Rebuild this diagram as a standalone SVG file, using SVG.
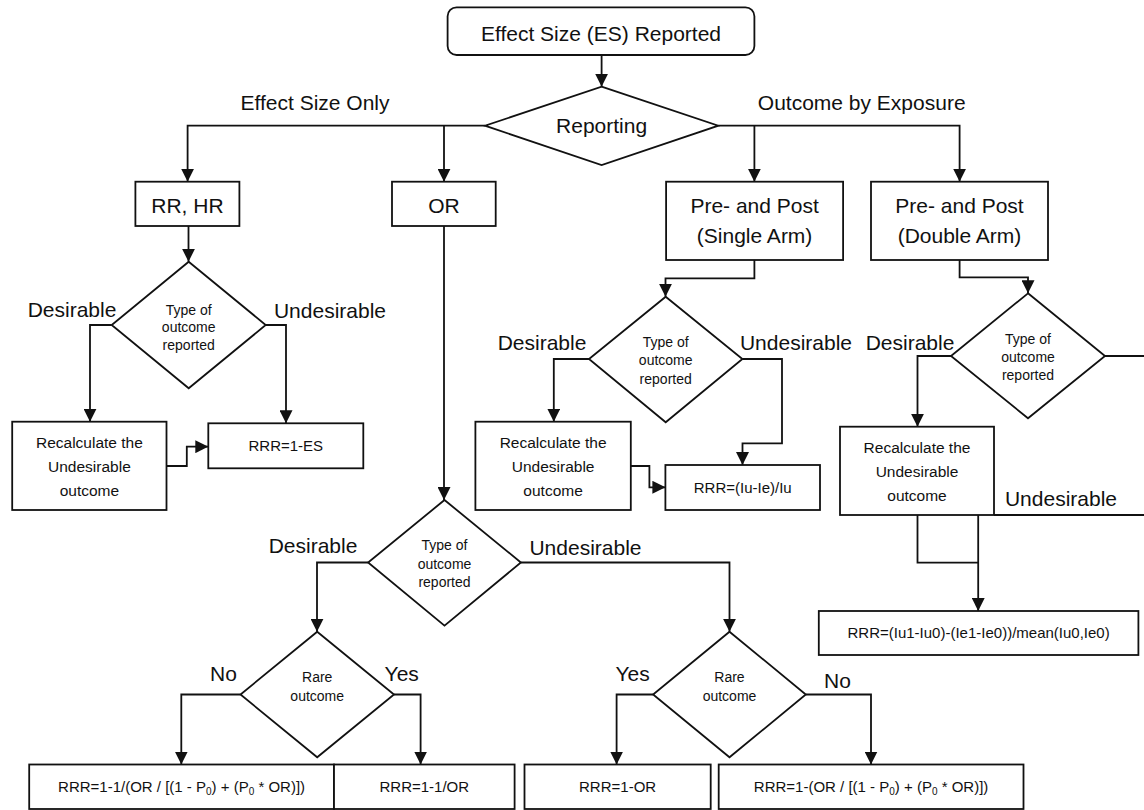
<svg xmlns="http://www.w3.org/2000/svg" width="1144" height="810" viewBox="0 0 1144 810">
<defs>
<marker id="ah" markerWidth="13" markerHeight="13" refX="13" refY="6.5" orient="auto" markerUnits="userSpaceOnUse">
<path d="M0,0 L13,6.5 L0,13 Z" fill="#111"/>
</marker>
<style>
.n{fill:#fff;stroke:#111;stroke-width:1.8}
.c{fill:none;stroke:#111;stroke-width:1.8}
.a{marker-end:url(#ah)}
text{font-family:"Liberation Sans",Arial,sans-serif;fill:#111;text-anchor:middle}
.L{font-size:21px}
.s{font-size:14px}
.m{font-size:15.5px}
.f{font-size:15px}
</style>
</defs>
<rect width="1144" height="810" fill="#fff"/>

<g id="connectors">
<path class="c a" d="M601.6,55 V86.7"/>
<path class="c a" d="M485,125.7 H187.6 V181.7"/>
<path class="c a" d="M444,125.7 V181.7"/>
<path class="c a" d="M718.3,125.7 H959.6 V181.7"/>
<path class="c a" d="M754.4,125.7 V181.7"/>
<path class="c a" d="M188.5,226 V261.7"/>
<path class="c a" d="M111.7,325 H90 V421.7"/>
<path class="c a" d="M265.7,325 H286 V423.3"/>
<path class="c a" d="M166.5,466 H186.8 V446.7 H208.3"/>
<path class="c a" d="M444,226 V500"/>
<path class="c a" d="M754.4,260 V278.3 H665.5 V296.7"/>
<path class="c a" d="M589,359 H553.8 V421.7"/>
<path class="c a" d="M742.4,359 H782 V443.3 H742.5 V465"/>
<path class="c a" d="M630.8,466 H649.4 V487.3 H665.4"/>
<path class="c a" d="M959.6,260 V277.3 H1028 V293.3"/>
<path class="c a" d="M951,356 H917.5 V426.7"/>
<path class="c" d="M1105,356 H1150"/>
<path class="c" d="M1150,515 H994"/>
<path class="c a" d="M978.2,515 V611"/>
<path class="c" d="M917.5,515 V562.7 H978.2"/>
<path class="c a" d="M368.1,562.5 H317 V631.7"/>
<path class="c a" d="M520.9,562.5 H729.5 V631.7"/>
<path class="c a" d="M240.5,694.5 H181.3 V764.5"/>
<path class="c a" d="M394,694.5 H420.6 V764.5"/>
<path class="c a" d="M653.1,694.5 H616.6 V764.5"/>
<path class="c a" d="M805.8,694.5 H871 V764.5"/>
</g>

<g id="labels">
<text class="L" x="315" y="110">Effect Size Only</text>
<text class="L" x="861.7" y="110">Outcome by Exposure</text>
<text class="L" x="72" y="316.5">Desirable</text>
<text class="L" x="330" y="318">Undesirable</text>
<text class="L" x="542" y="350">Desirable</text>
<text class="L" x="796" y="350">Undesirable</text>
<text class="L" x="910" y="350">Desirable</text>
<text class="L" x="1061" y="505.5">Undesirable</text>
<text class="L" x="313" y="552.5">Desirable</text>
<text class="L" x="585.5" y="555">Undesirable</text>
<text class="L" x="223.4" y="681">No</text>
<text class="L" x="401.7" y="681">Yes</text>
<text class="L" x="632.6" y="681">Yes</text>
<text class="L" x="837.5" y="688">No</text>
</g>

<g id="start">
<rect class="n" x="447.6" y="7.3" width="306.8" height="47.7" rx="9"/>
<text class="L" x="601" y="41">Effect Size (ES) Reported</text>
</g>
<g id="reporting">
<polygon class="n" points="601.6,86.7 718.3,125.7 601.6,165 485,125.7"/>
<text class="L" x="601.6" y="133.3">Reporting</text>
</g>
<g id="rrhr">
<rect class="n" x="135.4" y="181.7" width="104" height="44.3"/>
<text class="L" x="187.4" y="213.3">RR, HR</text>
</g>
<g id="or">
<rect class="n" x="392" y="181.7" width="103.7" height="44.3"/>
<text class="L" x="443.9" y="213.3">OR</text>
</g>
<g id="single">
<rect class="n" x="666.1" y="181.7" width="177" height="78.3"/>
<text class="L" x="754.6" y="213.3">Pre- and Post</text>
<text class="L" x="754.6" y="242.5">(Single Arm)</text>
</g>
<g id="double">
<rect class="n" x="871" y="181.7" width="177" height="78.3"/>
<text class="L" x="959.5" y="213.3">Pre- and Post</text>
<text class="L" x="959.5" y="242.5">(Double Arm)</text>
</g>

<g id="type-rr">
<polygon class="n" points="188.7,261.7 265.7,325 188.7,388.3 111.7,325"/>
<text class="s" x="188.7" y="315">Type of</text>
<text class="s" x="188.7" y="332">outcome</text>
<text class="s" x="188.7" y="350">reported</text>
</g>
<g id="type-single">
<polygon class="n" points="665.7,296.7 742.4,359 665.7,422.3 589,359"/>
<text class="s" x="665.7" y="347">Type of</text>
<text class="s" x="665.7" y="365">outcome</text>
<text class="s" x="665.7" y="383.5">reported</text>
</g>
<g id="type-double">
<polygon class="n" points="1028,293.3 1105,356 1028,418.3 951,356"/>
<text class="s" x="1028" y="343.5">Type of</text>
<text class="s" x="1028" y="361.5">outcome</text>
<text class="s" x="1028" y="380">reported</text>
</g>

<g id="recalc-rr">
<rect class="n" x="12.2" y="421.7" width="154.3" height="88.3"/>
<text class="m" x="89.4" y="448">Recalculate the</text>
<text class="m" x="89.4" y="472">Undesirable</text>
<text class="m" x="89.4" y="496">outcome</text>
</g>
<g id="rrr-1-es">
<rect class="n" x="208.3" y="423.3" width="155" height="45"/>
<text class="f" x="285.8" y="451">RRR=1-ES</text>
</g>
<g id="recalc-single">
<rect class="n" x="475.4" y="421.7" width="155.4" height="88.3"/>
<text class="m" x="553.1" y="448">Recalculate the</text>
<text class="m" x="553.1" y="472">Undesirable</text>
<text class="m" x="553.1" y="496">outcome</text>
</g>
<g id="rrr-iu-ie">
<rect class="n" x="665.4" y="465" width="154.6" height="45"/>
<text class="f" x="742.7" y="492.5">RRR=(Iu-Ie)/Iu</text>
</g>
<g id="recalc-double">
<rect class="n" x="840" y="426.7" width="154" height="88.3"/>
<text class="m" x="917" y="453">Recalculate the</text>
<text class="m" x="917" y="477">Undesirable</text>
<text class="m" x="917" y="501">outcome</text>
</g>
<g id="rrr-double">
<rect class="n" x="818.8" y="611" width="319.6" height="44"/>
<text class="f" x="978.6" y="638">RRR=(Iu1-Iu0)-(Ie1-Ie0))/mean(Iu0,Ie0)</text>
</g>

<g id="type-or">
<polygon class="n" points="444.5,500 520.9,562.5 444.5,625.7 368.1,562.5"/>
<text class="s" x="444.5" y="550">Type of</text>
<text class="s" x="444.5" y="568.5">outcome</text>
<text class="s" x="444.5" y="587">reported</text>
</g>
<g id="rare-desirable">
<polygon class="n" points="317.2,631.7 394,694.5 317.2,757.3 240.5,694.5"/>
<text class="s" x="317.2" y="682">Rare</text>
<text class="s" x="317.2" y="700.5">outcome</text>
</g>
<g id="rare-undesirable">
<polygon class="n" points="729.5,631.7 805.8,694.5 729.5,757.3 653.1,694.5"/>
<text class="s" x="729.5" y="682">Rare</text>
<text class="s" x="729.5" y="700.5">outcome</text>
</g>

<g id="rrr-or-no-des">
<rect class="n" x="29.2" y="764.5" width="304.8" height="44.5"/>
<text class="f" x="181.6" y="792">RRR=1-1/(OR / [(1 - P<tspan font-size="10" dy="3">0</tspan><tspan dy="-3">) + (P</tspan><tspan font-size="10" dy="3">0</tspan><tspan dy="-3"> * OR)])</tspan></text>
</g>
<g id="rrr-or-yes-des">
<rect class="n" x="334" y="764.5" width="180.6" height="44.5"/>
<text class="f" x="424.3" y="792">RRR=1-1/OR</text>
</g>
<g id="rrr-or-yes-und">
<rect class="n" x="524.5" y="764.5" width="186.2" height="44.5"/>
<text class="f" x="617.6" y="792">RRR=1-OR</text>
</g>
<g id="rrr-or-no-und">
<rect class="n" x="718.7" y="764.5" width="304.8" height="44.5"/>
<text class="f" x="871.1" y="792">RRR=1-(OR / [(1 - P<tspan font-size="10" dy="3">0</tspan><tspan dy="-3">) + (P</tspan><tspan font-size="10" dy="3">0</tspan><tspan dy="-3"> * OR)])</tspan></text>
</g>
</svg>
